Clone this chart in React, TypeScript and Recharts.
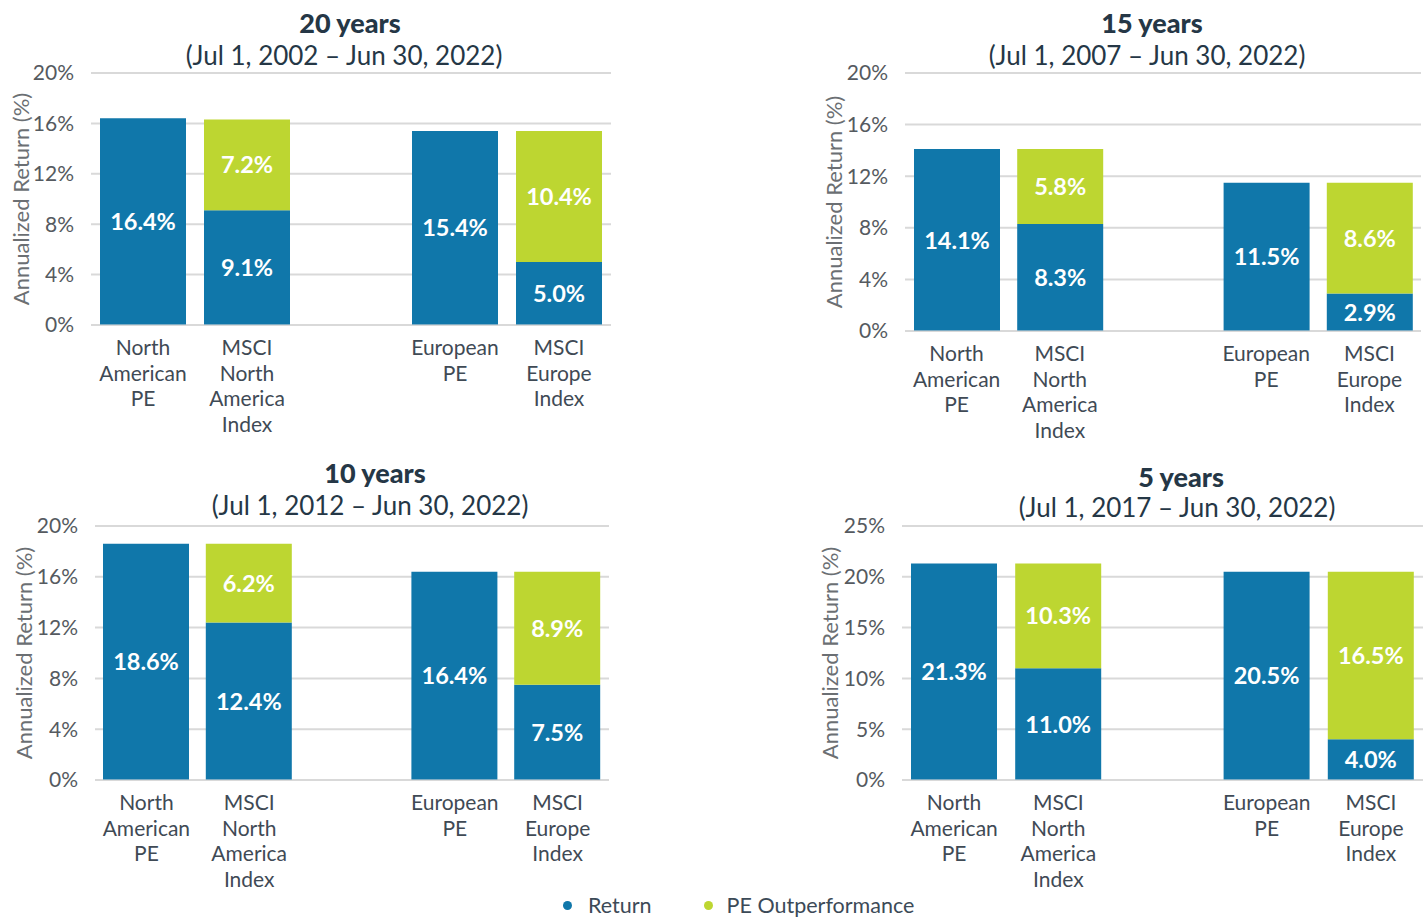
import React from 'react';
import { BarChart, Bar, XAxis, YAxis, CartesianGrid, LabelList, ReferenceLine } from 'recharts';

// ---------- DATA ----------
const categories = ['North\nAmerican\nPE', 'MSCI\nNorth\nAmerica\nIndex', '', 'European\nPE', 'MSCI\nEurope\nIndex'];

const titles = ['20 years', '15 years', '10 years', '5 years'];
const subtitles = [
  '(Jul 1, 2002 – Jun 30, 2022)',
  '(Jul 1, 2007 – Jun 30, 2022)',
  '(Jul 1, 2012 – Jun 30, 2022)',
  '(Jul 1, 2017 – Jun 30, 2022)',
];

const return20 = [16.4, 9.1, null, 15.4, 5.0];
const outperf20 = [null, 7.2, null, null, 10.4];
const return15 = [14.1, 8.3, null, 11.5, 2.9];
const outperf15 = [null, 5.8, null, null, 8.6];
const return10 = [18.6, 12.4, null, 16.4, 7.5];
const outperf10 = [null, 6.2, null, null, 8.9];
const return5 = [21.3, 11.0, null, 20.5, 4.0];
const outperf5 = [null, 10.3, null, null, 16.5];

const ticks20 = [0, 4, 8, 12, 16, 20];
const ticks25 = [0, 5, 10, 15, 20, 25];

const seriesNames = ['Return', 'PE Outperformance'];
const yAxisTitle = 'Annualized Return (%)';

// ---------- STYLE ----------
const FONT = 'Lato, "Open Sans", sans-serif';
const BLUE = '#1077AA';
const GREEN = '#BDD631';
const TITLE_COLOR = '#253746';
const TICK_COLOR = '#555a60';
const CAT_COLOR = '#3f4a55';

type Layout = {
  left: number; top: number; width: number; height: number;
  plotLeft: number; plotRight: number; plotTop: number; plotBottom: number;
  titleX: number; titleY: number; subX: number; subY: number;
  axisLabelX: number;
};

const layouts: Layout[] = [
  { left: 0, top: 0, width: 620, height: 445, plotLeft: 91, plotRight: 611, plotTop: 73, plotBottom: 325, titleX: 350, titleY: 23, subX: 344, subY: 55, axisLabelX: 20 },
  { left: 800, top: 0, width: 627, height: 445, plotLeft: 905, plotRight: 1421, plotTop: 73, plotBottom: 331, titleX: 1152, titleY: 23, subX: 1147, subY: 55, axisLabelX: 33 },
  { left: 0, top: 450, width: 620, height: 445, plotLeft: 95, plotRight: 609, plotTop: 526, plotBottom: 780, titleX: 375, titleY: 473, subX: 370, subY: 505, axisLabelX: 23 },
  { left: 800, top: 450, width: 627, height: 445, plotLeft: 902, plotRight: 1423, plotTop: 526, plotBottom: 780, titleX: 1181, titleY: 477, subX: 1177, subY: 507, axisLabelX: 29 },
];

const panelData = [
  { returns: return20, outperf: outperf20, ticks: ticks20 },
  { returns: return15, outperf: outperf15, ticks: ticks20 },
  { returns: return10, outperf: outperf10, ticks: ticks20 },
  { returns: return5, outperf: outperf5, ticks: ticks25 },
];

const CategoryTick = (props: any) => {
  const { x, y, payload } = props;
  const lines = String(payload.value ?? '').split('\n');
  return (
    <text x={x} y={y} textAnchor="middle" fill={CAT_COLOR} fontSize={21} fontFamily={FONT}>
      {lines.map((l, i) => (
        <tspan key={i} x={x} dy={i === 0 ? 22 : 25.5}>{l}</tspan>
      ))}
    </text>
  );
};

const renderBarLabel = (props: any) => {
  const vb = props.viewBox || {};
  const x = vb.x ?? props.x;
  const y = vb.y ?? props.y;
  const w = vb.width ?? props.width;
  const h = vb.height ?? props.height;
  const v = props.value;
  if (v == null || v === '' || isNaN(Number(v))) return null;
  return (
    <text x={x + w / 2} y={y + h / 2} dy="0.36em" textAnchor="middle" fill="#ffffff"
      fontSize={23.5} fontWeight={700} fontFamily={FONT}>
      {Number(v).toFixed(1)}%
    </text>
  );
};

const Panel = ({ idx }: { idx: number }) => {
  const L = layouts[idx];
  const P = panelData[idx];
  const data = categories.map((c, i) => ({ name: c, ret: P.returns[i], out: P.outperf[i] }));
  const yMax = P.ticks[P.ticks.length - 1];
  const axisLabel = (p: any) => {
    const vb = p.viewBox || {};
    const cy = (vb.y ?? 0) + (vb.height ?? 0) / 2;
    const cx = L.axisLabelX;
    return (
      <text x={cx} y={cy} transform={`rotate(-90, ${cx}, ${cy})`} textAnchor="middle"
        dominantBaseline="central" fill="#6b6f73" fontSize={22} fontFamily={FONT}>
        {yAxisTitle}
      </text>
    );
  };
  return (
    <>
      <div style={{ position: 'absolute', left: L.titleX - 200, top: L.titleY - 16, width: 400, height: 32, lineHeight: '32px', textAlign: 'center', fontFamily: FONT, fontWeight: 900, fontSize: 27, color: TITLE_COLOR }}>
        {titles[idx]}
      </div>
      <div style={{ position: 'absolute', left: L.subX - 250, top: L.subY - 16, width: 500, height: 32, lineHeight: '32px', textAlign: 'center', fontFamily: FONT, fontSize: 26, color: TITLE_COLOR }}>
        {subtitles[idx]}
      </div>
      <div style={{ position: 'absolute', left: L.left, top: L.top }}>
        <BarChart
          width={L.width}
          height={L.height}
          data={data}
          margin={{ top: L.plotTop - L.top, right: L.left + L.width - L.plotRight, left: 0, bottom: 0 }}
        >
          <CartesianGrid vertical={false} stroke="#d9d9d9" strokeWidth={2} />
          <XAxis dataKey="name" axisLine={false} tickLine={false} interval={0}
            height={L.top + L.height - L.plotBottom} tick={<CategoryTick />} />
          <YAxis width={L.plotLeft - L.left} domain={[0, yMax]} ticks={P.ticks} axisLine={false} tickLine={false}
            tickMargin={11} tickFormatter={(v: number) => `${v}%`}
            tick={{ fill: TICK_COLOR, fontSize: 21, fontFamily: FONT }}
            label={axisLabel} />
          <Bar dataKey="ret" stackId="s" fill={BLUE} barSize={86} isAnimationActive={false} name={seriesNames[0]}>
            <LabelList dataKey="ret" position="center" content={renderBarLabel} />
          </Bar>
          <Bar dataKey="out" stackId="s" fill={GREEN} barSize={86} isAnimationActive={false} name={seriesNames[1]}>
            <LabelList dataKey="out" position="center" content={renderBarLabel} />
          </Bar>
          <ReferenceLine y={0} stroke="#d9d9d9" strokeOpacity={0.55} strokeWidth={2} />
        </BarChart>
      </div>
    </>
  );
};

export default function App() {
  return (
    <div style={{ position: 'absolute', left: 0, top: 0, width: 1427, height: 918, background: '#ffffff' }}>
      {[0, 1, 2, 3].map((i) => <Panel key={i} idx={i} />)}
      <div style={{ position: 'absolute', left: 563, top: 894, height: 22, lineHeight: '22px', display: 'flex', alignItems: 'center', fontFamily: FONT, fontSize: 21.5, color: '#3c4a57' }}>
        <span style={{ display: 'inline-block', width: 9, height: 9, borderRadius: '50%', background: BLUE, marginRight: 16 }} />
        <span style={{ marginRight: 52 }}>{seriesNames[0]}</span>
        <span style={{ display: 'inline-block', width: 9, height: 9, borderRadius: '50%', background: GREEN, marginRight: 14 }} />
        <span>{seriesNames[1]}</span>
      </div>
    </div>
  );
}
